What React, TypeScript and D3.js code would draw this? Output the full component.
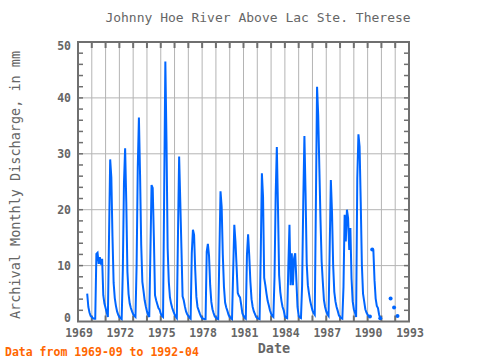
import React from "react";
import * as d3 from "d3";

const TITLE = "Johnny Hoe River Above Lac Ste. Therese";
const Y_LABEL = "Archival Monthly Discharge, in mm";
const X_LABEL = "Date";
const FOOTER = "Data from 1969-09 to 1992-04";

const START_YEAR = 1969;
const START_MONTH = 9; // September

// Monthly discharge (mm), from 1969-09 to 1992-04; null = missing
const discharge: (number | null)[] = [
  // 1969 Sep-Dec
  5.0, 2.6, 1.6, 1.0,
  // 1970
  0.8, 0.6, 0.5, 0.5, 12.1, 12.3, 10.3, 11.5, 10.2, 11.2, 4.7, 3.2,
  // 1971
  2.4, 1.6, 0.8, 15.2, 29.0, 25.8, 15.2, 6.9, 4.2, 2.8, 1.8, 1.2,
  // 1972
  0.8, 0.6, 0.4, 9.2, 24.8, 31.0, 21.4, 8.9, 4.9, 3.2, 2.4, 1.8,
  // 1973
  1.3, 1.0, 0.8, 10.1, 27.5, 36.5, 26.2, 13.7, 7.1, 5.5, 3.8, 2.7,
  // 1974
  1.8, 1.2, 0.8, 12.4, 24.4, 23.9, 15.2, 4.7, 3.8, 3.1, 2.4, 2.1,
  // 1975
  1.4, 1.0, 0.8, 23.5, 46.5, 32.2, 13.1, 7.1, 4.3, 3.2, 2.4, 1.8,
  // 1976
  1.3, 0.9, 0.6, 15.8, 29.5, 21.4, 13.1, 4.5, 3.8, 2.7, 1.8, 1.3,
  // 1977
  1.0, 0.7, 0.5, 12.2, 16.4, 15.5, 9.2, 4.4, 2.6, 2.0, 1.4, 0.9,
  // 1978
  0.6, 0.5, 0.4, 0.4, 12.5, 13.9, 11.8, 6.5, 3.5, 2.2, 1.5, 0.9,
  // 1979
  0.7, 0.5, 0.4, 11.9, 23.3, 20.5, 11.9, 6.2, 3.4, 2.5, 1.9, 1.2,
  // 1980
  0.8, 0.6, 0.4, 8.9, 17.3, 14.3, 9.8, 5.1, 4.6, 4.3, 3.0, 1.5,
  // 1981
  1.0, 0.7, 0.5, 11.9, 15.6, 11.8, 7.1, 4.0, 2.6, 1.8, 1.3, 0.8,
  // 1982
  0.6, 0.5, 0.4, 11.9, 26.5, 22.3, 7.8, 6.5, 5.0, 3.7, 2.9, 2.0,
  // 1983
  1.4, 1.0, 0.8, 8.0, 22.7, 31.2, 20.5, 8.3, 5.3, 3.7, 2.6, 2.0,
  // 1984
  0.9, 0.7, 0.6, 9.8, 17.3, 6.5, 12.2, 6.5, 11.3, 12.2, 7.4, 2.6,
  // 1985
  1.0, 0.7, 0.6, 6.5, 21.4, 33.2, 23.0, 10.4, 6.5, 5.0, 3.7, 2.8,
  // 1986
  2.0, 1.5, 1.2, 21.4, 42.0, 36.9, 27.4, 18.2, 10.7, 7.1, 3.8, 2.6,
  // 1987
  1.8, 1.3, 1.0, 13.1, 25.3, 19.6, 10.1, 5.3, 3.6, 2.6, 1.9, 1.1,
  // 1988
  0.8, 0.6, 0.5, 6.2, 19.1, 14.3, 20.0, 18.5, 12.8, 16.7, 7.7, 3.6,
  // 1989
  2.2, 1.6, 0.8, 25.6, 33.5, 31.3, 21.4, 10.1, 5.0, 3.6, 2.2, 1.6,
  // 1990
  1.2, 1.0, 0.9, null, 12.9, 12.7, 7.4, 4.1, 2.8, 2.4, 1.2, 0.6,
  // 1991
  null, null, null, null, null, null, null, null, 4.1, null, null, 2.5,
  // 1992 Jan-Apr
  null, null, 1.0, null,
];

const X_TICKS = [1969, 1972, 1975, 1978, 1981, 1984, 1987, 1990, 1993];
const Y_TICKS = [0, 10, 20, 30, 40, 50];

type Pt = { t: number; v: number | null };

const points: Pt[] = discharge.map((v, i) => {
  const m = START_MONTH - 1 + i;
  return { t: START_YEAR + m / 12, v };
});

const W = 480;
const H = 360;
const L = 78;
const R = 409;
const T = 42;
const B = 321.5;

const FONT = "'DejaVu Sans Mono', monospace";
const AXIS = "#6f6f6f";
const GRID = "#b4b4b4";
const LINE = "#0066ff";
const TEXT = "#666666";

export default function App() {
  const x = d3.scaleLinear().domain([1969, 1993]).range([L, R]);
  const y = d3.scaleLinear().domain([0, 50]).range([B, T]);

  const line = d3
    .line<Pt>()
    .defined((d) => d.v != null)
    .x((d) => x(d.t))
    .y((d) => y(d.v as number));

  const years = d3.range(1969, 1994);
  const minorY = d3.range(0, 51, 2);

  const markers = points.filter((d, i) => {
    if (d.v == null) return false;
    const prev = i > 0 ? points[i - 1].v : 0;
    const next = i < points.length - 1 ? points[i + 1].v : 0;
    return prev == null || next == null;
  });

  return (
    <svg
      width={W}
      height={H}
      style={{ position: "absolute", left: 0, top: 0, background: "#fff" }}
    >
      <rect x={0} y={0} width={W} height={H} fill="#fff" />
      {/* grid */}
      {years.slice(1, -1).map((yr) => (
        <line key={"gx" + yr} x1={x(yr)} x2={x(yr)} y1={T} y2={B} stroke={GRID} strokeWidth={1} />
      ))}
      {Y_TICKS.slice(1, -1).map((v) => (
        <line key={"gy" + v} x1={L} x2={R} y1={y(v)} y2={y(v)} stroke={GRID} strokeWidth={1} />
      ))}
      {/* year ticks top & bottom */}
      {years.slice(1, -1).map((yr) => (
        <g key={"tx" + yr}>
          <line x1={x(yr)} x2={x(yr)} y1={T} y2={T + 6} stroke={AXIS} strokeWidth={2} />
          <line x1={x(yr)} x2={x(yr)} y1={B} y2={B - 6} stroke={AXIS} strokeWidth={2} />
        </g>
      ))}
      {/* minor y ticks left & right */}
      {minorY.slice(1, -1).map((v) => (
        <g key={"ty" + v}>
          <line x1={L} x2={L + 5} y1={y(v)} y2={y(v)} stroke={AXIS} strokeWidth={1.5} />
          <line x1={R} x2={R - 5} y1={y(v)} y2={y(v)} stroke={AXIS} strokeWidth={1.5} />
        </g>
      ))}
      {/* data line */}
      <path d={line(points) || ""} fill="none" stroke={LINE} strokeWidth={2} strokeLinejoin="miter" />
      {markers.map((d, i) => (
        <circle key={"m" + i} cx={x(d.t)} cy={y(d.v as number)} r={2} fill={LINE} />
      ))}
      {/* frame */}
      <rect x={L} y={T} width={R - L} height={B - T} fill="none" stroke={AXIS} strokeWidth={2} />
      {/* y tick labels */}
      {Y_TICKS.map((v) => {
        const cy = Math.max(T + 4, Math.min(B - 4, y(v)));
        return (
          <text
            key={"yl" + v}
            x={71}
            y={cy + 4}
            textAnchor="end"
            fontFamily={FONT}
            fontSize={11.5}
            fontWeight="bold"
            fill={TEXT}
          >
            {v}
          </text>
        );
      })}
      {/* x tick labels */}
      {X_TICKS.map((yr) => (
        <text
          key={"xl" + yr}
          x={x(yr) + 1}
          y={337}
          textAnchor="middle"
          fontFamily={FONT}
          fontSize={11.5}
          fontWeight="bold"
          fill={TEXT}
        >
          {yr}
        </text>
      ))}
      {/* titles */}
      <text x={258} y={22} textAnchor="middle" fontFamily={FONT} fontSize={13} fill={TEXT}>
        {TITLE}
      </text>
      <text
        transform={`translate(20,185) rotate(-90)`}
        textAnchor="middle"
        fontFamily={FONT}
        fontSize={13.5}
        fill={TEXT}
      >
        {Y_LABEL}
      </text>
      <text x={274} y={353} textAnchor="middle" fontFamily={FONT} fontSize={13.5} fontWeight="bold" fill={TEXT}>
        {X_LABEL}
      </text>
      <text x={5} y={356} fontFamily={FONT} fontSize={11.5} fontWeight="bold" fill="#ff6600">
        {FOOTER}
      </text>
    </svg>
  );
}
